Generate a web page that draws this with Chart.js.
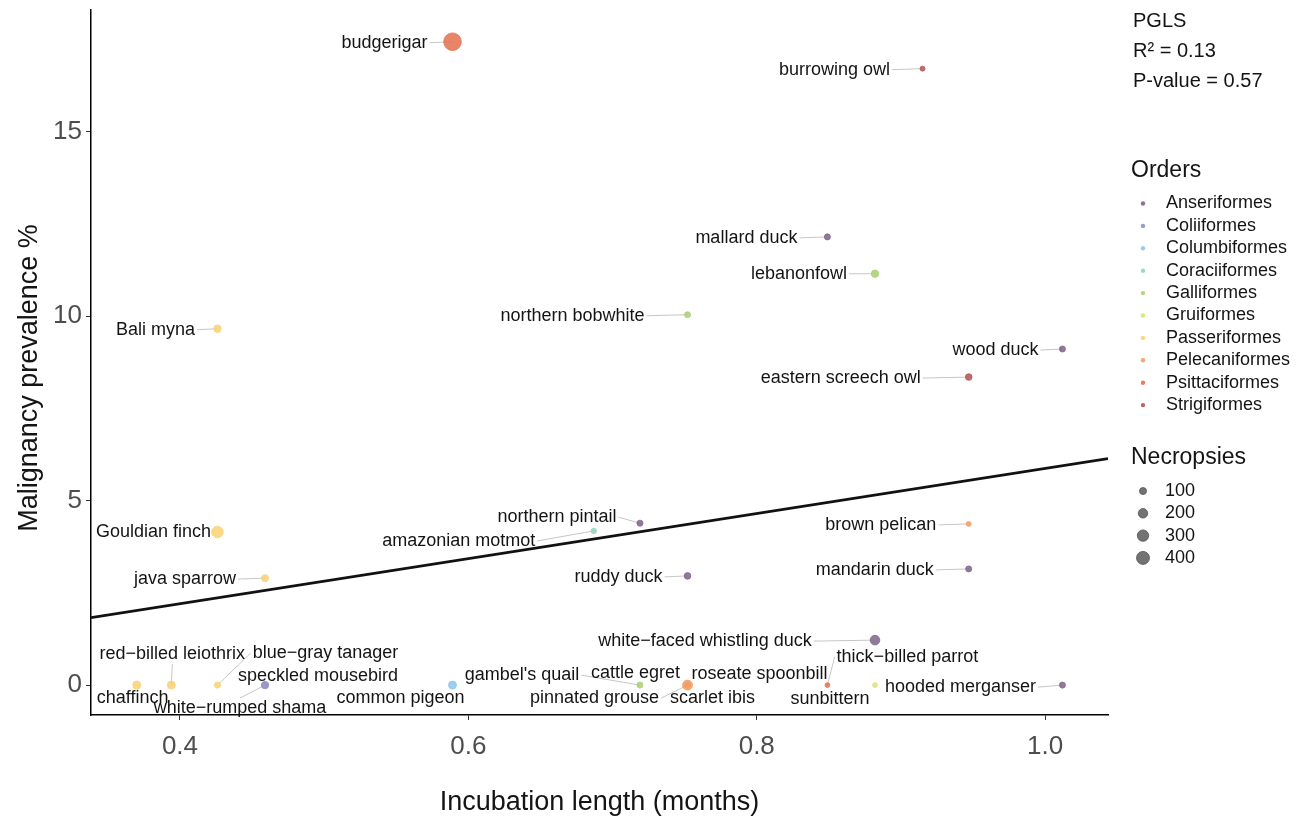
<!DOCTYPE html>
<html>
<head>
<meta charset="utf-8">
<title>Malignancy prevalence vs incubation length</title>
<script src="https://cdn.jsdelivr.net/npm/chart.js@4.4.1/dist/chart.umd.min.js"></script>
<style>
    html, body { margin: 0; padding: 0; background: #fff; }
    canvas { display: block; }
</style>
</head>
<body>
<canvas id="birdChart" width="1298" height="819"></canvas>
<script>
// Data
const birds = [
    'budgerigar', 'burrowing owl', 'mallard duck', 'lebanonfowl', 'northern bobwhite',
    'Bali myna', 'wood duck', 'eastern screech owl', 'northern pintail', 'amazonian motmot',
    'Gouldian finch', 'brown pelican', 'java sparrow', 'ruddy duck', 'mandarin duck',
    'white\u2212faced whistling duck', 'chaffinch', 'red\u2212billed leiothrix', 'blue\u2212gray tanager',
    'white\u2212rumped shama', 'speckled mousebird', 'common pigeon', "gambel's quail",
    'pinnated grouse', 'cattle egret', 'roseate spoonbill', 'scarlet ibis',
    'thick\u2212billed parrot', 'sunbittern', 'hooded merganser'
];
const orders = [
    'Psittaciformes', 'Strigiformes', 'Anseriformes', 'Galliformes', 'Galliformes',
    'Passeriformes', 'Anseriformes', 'Strigiformes', 'Anseriformes', 'Coraciiformes',
    'Passeriformes', 'Pelecaniformes', 'Passeriformes', 'Anseriformes', 'Anseriformes',
    'Anseriformes', 'Passeriformes', 'Passeriformes', 'Passeriformes',
    'Passeriformes', 'Coliiformes', 'Columbiformes', 'Galliformes',
    'Galliformes', 'Pelecaniformes', 'Pelecaniformes', 'Pelecaniformes',
    'Psittaciformes', 'Gruiformes', 'Anseriformes'
];
// incubation length, months
const incubation = [
    0.589, 0.915, 0.849, 0.882, 0.752,
    0.426, 1.012, 0.947, 0.719, 0.687,
    0.426, 0.947, 0.459, 0.752, 0.947,
    0.882, 0.370, 0.394, 0.426,
    0.459, 0.459, 0.589, 0.719,
    0.752, 0.752, 0.752, 0.752,
    0.849, 0.882, 1.012
];
// malignancy prevalence, %
const malignancy = [
    17.44, 16.71, 12.15, 11.15, 10.04,
    9.66, 9.11, 8.35, 4.39, 4.18,
    4.15, 4.37, 2.90, 2.96, 3.15,
    1.22, 0, 0, 0,
    0, 0, 0, 0,
    0, 0, 0, 0,
    0, 0, 0
];
const necropsies = [
    770, 44, 70, 114, 70,
    114, 70, 87, 70, 54,
    312, 44, 100, 87, 70,
    205, 136, 136, 70,
    70, 114, 136, 70,
    70, 70, 225, 70,
    40, 40, 70
];

const orderNames = ['Anseriformes', 'Coliiformes', 'Columbiformes', 'Coraciiformes', 'Galliformes',
    'Gruiformes', 'Passeriformes', 'Pelecaniformes', 'Psittaciformes', 'Strigiformes'];
const orderColors = ['#7f6488', '#8a8fd0', '#8cc6ec', '#92d5c2', '#abcf74',
    '#dde077', '#f8d274', '#f39e66', '#e4704f', '#b65257'];
// which groups end up on top where points overlap (first = topmost)
const drawOrder = ['Pelecaniformes', 'Coliiformes', 'Anseriformes', 'Columbiformes', 'Coraciiformes',
    'Galliformes', 'Gruiformes', 'Passeriformes', 'Psittaciformes', 'Strigiformes'];

const sizeBreaks = [100, 200, 300, 400];

// PGLS fit line ends (x in months, y in %)
const fitX = [0.3383, 1.0436];
const fitY = [1.83, 6.14];

const xTicks = [0.4, 0.6, 0.8, 1.0];
const yTicks = [0, 5, 10, 15];
const statLines = ['PGLS', 'R\u00b2 = 0.13', 'P-value = 0.57'];

// Label placement: text centre offset from point (px) and whether a leader line is drawn
const labelLayout = [
    [-68, 1, true], [-88, 1, true], [-81, 1, true], [-76, 0, true], [-115, 1, true],
    [-62, 1, true], [-67, 1, true], [-128, 1, true], [-83, -6, true], [-135, 10, true],
    [-64, 0, false], [-88, 1, true], [-80, 1, true], [-69, 1, true], [-94, 1, true],
    [-170, 1, true], [-4, 13, false], [1, -31, true], [108, -32, true],
    [-25, 23, true], [53, -9, false], [-52, 13, false], [-118, -10, true],
    [-93, 13, true], [-52, -12, false], [72, -11, false], [25, 13, false],
    [80, -28, true], [-45, 14, false], [-102, 2, true]
];

const FONT = "'Liberation Sans', Arial, Helvetica, sans-serif";
const LABEL_FONT = `18px ${FONT}`;

const sizeFor = (n) => 0.3 * Math.sqrt(n) + 0.5;

function withAlpha(hex, a) {
    const v = parseInt(hex.slice(1), 16);
    return `rgba(${(v >> 16) & 255}, ${(v >> 8) & 255}, ${v & 255}, ${a})`;
}

// Labels with leader lines, ggrepel style
const repelLabels = {
    id: 'repelLabels',
    beforeDatasetsDraw(chart) {
        const { ctx, scales: { x, y } } = chart;
        ctx.save();
        ctx.font = LABEL_FONT;
        ctx.strokeStyle = '#c6c6c6';
        ctx.lineWidth = 1;
        birds.forEach((name, i) => {
            const [dx, dy, leader] = labelLayout[i];
            if (!leader) return;
            const px = x.getPixelForValue(incubation[i]);
            const py = y.getPixelForValue(malignancy[i]);
            const cx = px + dx, cy = py + dy;
            const hw = ctx.measureText(name).width / 2 + 2;
            const hh = 10;
            const anchors = [[cx - hw, cy], [cx + hw, cy], [cx, cy - hh], [cx, cy + hh]];
            let best = anchors[0], bestD = Infinity;
            anchors.forEach(a => {
                const d = Math.hypot(a[0] - px, a[1] - py);
                if (d < bestD) { bestD = d; best = a; }
            });
            ctx.beginPath();
            ctx.moveTo(best[0], best[1]);
            ctx.lineTo(px, py);
            ctx.stroke();
        });
        ctx.restore();
    },
    afterDatasetsDraw(chart) {
        const { ctx, scales: { x, y } } = chart;
        ctx.save();
        ctx.font = LABEL_FONT;
        ctx.fillStyle = '#141414';
        ctx.textAlign = 'center';
        ctx.textBaseline = 'middle';
        birds.forEach((name, i) => {
            const [dx, dy] = labelLayout[i];
            const px = x.getPixelForValue(incubation[i]);
            const py = y.getPixelForValue(malignancy[i]);
            ctx.fillText(name, px + dx, py + dy);
        });
        ctx.restore();
    }
};

// Right-hand panel: statistics, order legend, size legend; plus the y title
const sideLegend = {
    id: 'sideLegend',
    afterDraw(chart) {
        const ctx = chart.ctx;
        ctx.save();
        ctx.textAlign = 'left';
        ctx.textBaseline = 'middle';
        ctx.fillStyle = '#141414';

        ctx.font = `20px ${FONT}`;
        statLines.forEach((t, i) => ctx.fillText(t, 1133, 21 + i * 30));

        ctx.font = `23px ${FONT}`;
        ctx.fillText('Orders', 1131, 171);
        ctx.font = `18px ${FONT}`;
        orderNames.forEach((name, i) => {
            const yy = 203.5 + i * 22.4;
            ctx.beginPath();
            ctx.arc(1143, yy, 2.2, 0, Math.PI * 2);
            ctx.fillStyle = withAlpha(orderColors[i], 0.9);
            ctx.fill();
            ctx.fillStyle = '#141414';
            ctx.fillText(name, 1166, yy);
        });

        ctx.font = `23px ${FONT}`;
        ctx.fillText('Necropsies', 1131, 458);
        ctx.font = `18px ${FONT}`;
        sizeBreaks.forEach((n, i) => {
            const yy = 491 + i * 22.3;
            ctx.beginPath();
            ctx.arc(1143, yy, sizeFor(n), 0, Math.PI * 2);
            ctx.fillStyle = 'rgba(90, 90, 90, 0.85)';
            ctx.fill();
            ctx.strokeStyle = '#555';
            ctx.lineWidth = 0.8;
            ctx.stroke();
            ctx.fillStyle = '#141414';
            ctx.fillText(String(n), 1165, yy);
        });

        // y axis title, sits a little below the panel centre in the original
        ctx.translate(30, 378);
        ctx.rotate(-Math.PI / 2);
        ctx.textAlign = 'center';
        ctx.font = `27px ${FONT}`;
        ctx.fillText('Malignancy prevalence %', 0, 0);
        ctx.restore();
    }
};

function buildDatasets() {
    const fit = {
        type: 'line',
        label: 'PGLS',
        data: fitX.map((v, i) => ({ x: v, y: fitY[i] })),
        borderColor: '#111',
        borderWidth: 2.6,
        pointRadius: 0,
        fill: false,
        tension: 0
    };
    // Chart.js paints later datasets first, so drawOrder[0] lands on top
    const groups = drawOrder.map((ord) => {
        const k = orderNames.indexOf(ord);
        const idx = birds.map((_, i) => i).filter(i => orders[i] === ord);
        return {
            type: 'scatter',
            label: ord,
            data: idx.map(i => ({ x: incubation[i], y: malignancy[i] })),
            pointRadius: idx.map(i => sizeFor(necropsies[i])),
            pointHoverRadius: idx.map(i => sizeFor(necropsies[i])),
            backgroundColor: withAlpha(orderColors[k], 0.85),
            borderColor: orderColors[k],
            borderWidth: 0.8
        };
    });
    return [fit, ...groups];
}

function initChart() {
    const ctx = document.getElementById('birdChart').getContext('2d');
    Chart.defaults.font.family = FONT;
    new Chart(ctx, {
        type: 'scatter',
        data: { datasets: buildDatasets() },
        options: {
            responsive: false,
            animation: false,
            devicePixelRatio: 1,
            layout: { padding: { left: 0, right: 190, top: 10, bottom: 0 } },
            plugins: {
                legend: { display: false },
                tooltip: { enabled: false }
            },
            scales: {
                x: {
                    type: 'linear',
                    min: 0.3383,
                    max: 1.0436,
                    afterBuildTicks: (axis) => { axis.ticks = xTicks.map(v => ({ value: v })); },
                    afterFit: (axis) => {
                        axis.height = 104;
                        axis.paddingLeft = 0;
                        axis.paddingRight = 0;
                    },
                    ticks: {
                        callback: (v) => v.toFixed(1),
                        color: '#4d4d4d',
                        font: { size: 26 },
                        padding: 11,
                        maxRotation: 0
                    },
                    grid: { drawOnChartArea: false, drawTicks: true, tickLength: 5, color: '#333', lineWidth: 1 },
                    border: { display: true, color: '#000', width: 1.5 },
                    title: {
                        display: true,
                        text: 'Incubation length (months)',
                        color: '#141414',
                        font: { size: 27 },
                        padding: { top: 0, bottom: 0 }
                    }
                },
                y: {
                    type: 'linear',
                    min: -0.81,
                    max: 18.3,
                    afterBuildTicks: (axis) => { axis.ticks = yTicks.map(v => ({ value: v })); },
                    afterFit: (axis) => {
                        axis.width = 91;
                        axis.paddingTop = 0;
                        axis.paddingBottom = 0;
                    },
                    ticks: {
                        callback: (v) => String(v),
                        color: '#4d4d4d',
                        font: { size: 26 },
                        padding: 4
                    },
                    grid: { drawOnChartArea: false, drawTicks: true, tickLength: 5, color: '#333', lineWidth: 1 },
                    border: { display: true, color: '#000', width: 1.5 },
                    title: { display: false }
                }
            }
        },
        plugins: [repelLabels, sideLegend]
    });
}

document.addEventListener('DOMContentLoaded', initChart);
</script>
</body>
</html>
